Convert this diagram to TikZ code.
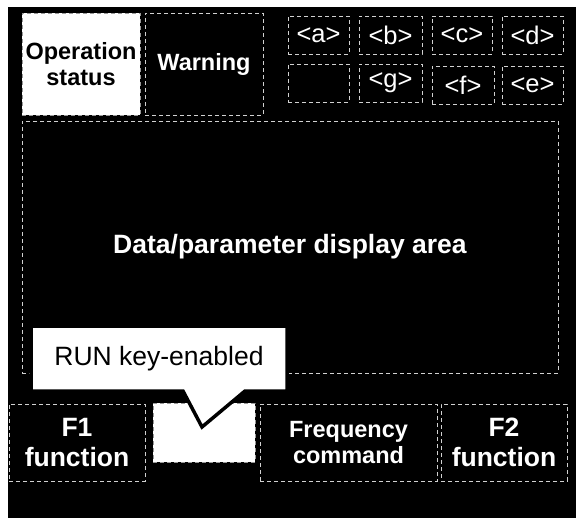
\documentclass[tikz,border=0pt]{standalone}
\usepackage{fontspec}
\setmainfont{Liberation Sans}
\begin{document}
\begin{tikzpicture}[x=1pt,y=-1pt,
  panel/.style={draw=white!82!black, dash pattern=on 4pt off 3pt, line width=0.9pt,
    rectangle, inner sep=0pt, align=center, text=white},
  litpanel/.style={panel, draw=black!40, fill=white, text=black},
  big/.style={font=\bfseries\fontsize{26.5}{29.5}\selectfont},
  mid/.style={font=\bfseries\fontsize{23.5}{26.5}\selectfont},
  cell/.style={panel, minimum width=61pt, minimum height=38pt, font=\fontsize{25.5}{28}\selectfont}]
\useasboundingbox (0,0) rectangle (580,518);
\fill[black] (8,7) rectangle (576,518);
% top-left
\node[litpanel, mid, minimum width=118pt, minimum height=102pt] (ops) at (81,64) {Operation\\status};
\node[panel, mid, minimum width=118pt, minimum height=102pt] (warn) at (204,64) {Warning};
% indicator grid
\node[cell] (ca) at (318.5,35) {<a>};
\node[cell, minimum width=63pt] (cb) at (390.5,35) {<b>};
\node[cell, minimum width=60pt] (cc) at (462,35) {<c>};
\node[cell] (cd) at (532.5,35) {<d>};
\node[cell] (cx) at (318.5,83) {};
\node[cell, minimum width=63pt] (cg) at (390.5,83) {<g>};
\node[cell, minimum width=62pt] (cf) at (463,85) {<f>};
\node[cell] (ce) at (532.5,85) {<e>};
% data area
\node[panel, big, minimum width=536pt, minimum height=252pt] (data) at (290,247) {Data/parameter display area};
% bottom row
\node[panel, big, minimum width=136pt, minimum height=77pt] (f1) at (77,442.5) {F1\\function};
\node[litpanel, minimum width=102pt, minimum height=59pt] (runbox) at (204,432.5) {};
\node[panel, mid, minimum width=177pt, minimum height=77pt] (freq) at (348.5,442.5) {Frequency\\command};
\node[panel, big, minimum width=126pt, minimum height=77pt] (f2) at (504,442.5) {F2\\function};
% callout
\draw[fill=white, draw=black, line width=3.5pt, line join=miter]
  (31,326) -- (287,326) -- (287,391) -- (245,391) -- (202,427) -- (183,391) -- (31,391) -- cycle;
\node[font=\fontsize{26.5}{29}\selectfont, text=black, inner sep=0pt] (callout) at (159,358.5) {RUN key-enabled};
\end{tikzpicture}
\end{document}
